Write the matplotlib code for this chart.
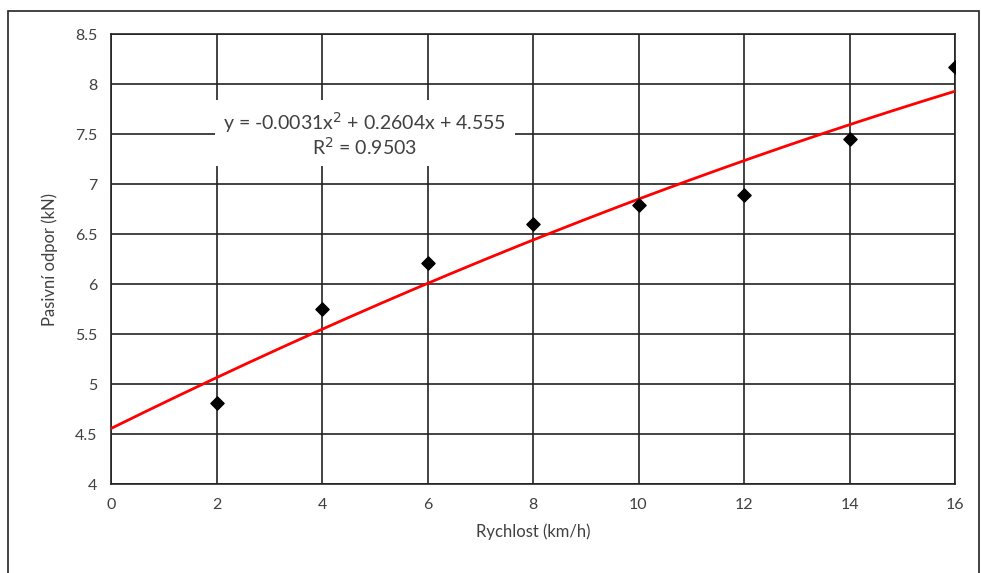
import numpy as np
import matplotlib
matplotlib.use("Agg")
import matplotlib.pyplot as plt
from matplotlib.patches import Rectangle

speed = [2, 4, 6, 8, 10, 12, 14, 16]
resistance = [4.81, 5.75, 6.21, 6.60, 6.79, 6.89, 7.45, 8.17]
coef = [-0.0031, 0.2604, 4.555]
r2 = 0.9503
x_ticks = [0, 2, 4, 6, 8, 10, 12, 14, 16]
y_ticks = [4, 4.5, 5, 5.5, 6, 6.5, 7, 7.5, 8, 8.5]

plt.rcParams['font.family'] = ['Lato', 'DejaVu Sans']

fig = plt.figure(figsize=(9.81, 5.73), dpi=100)
W, H = 981, 573
fig.patches.append(Rectangle((8 / W, -0.05), (979 - 8) / W, (H - 11) / H + 0.05,
                             transform=fig.transFigure, fill=False,
                             edgecolor='#222222', linewidth=1.2))
ax = fig.add_axes([111 / W, (H - 484) / H, (955 - 111) / W, (484 - 34) / H])

xs = np.linspace(0, 16, 200)
ax.plot(xs, np.polyval(coef, xs), color='#ff0000', linewidth=2, zorder=3)
ax.scatter(speed, resistance, marker='D', s=45, color='black', zorder=4)

ax.set_xlim(0, 16)
ax.set_ylim(4, 8.5)
ax.set_xticks(x_ticks)
ax.set_xticklabels([str(v) for v in x_ticks])
ax.set_yticks(y_ticks)
ax.set_yticklabels([f"{v:g}" for v in y_ticks])
ax.grid(True, color='#222222', linewidth=1.2)
ax.set_axisbelow(True)
for s in ax.spines.values():
    s.set_color('#222222')
    s.set_linewidth(1.2)
ax.tick_params(length=0, labelsize=11.5, colors='#404040', pad=10)
ax.set_xlabel('Rychlost (km/h)', fontsize=12, color='#404040', labelpad=8)
ax.set_ylabel('Pasivní odpor (kN)', fontsize=12, color='#404040', labelpad=12)

eq = (f"y = {coef[0]:.4f}x$^2$ + {coef[1]:.4f}x + {coef[2]:.3f}\n"
      f"R$^2$ = {r2:.4f}")
ax.text(4.81, 7.5, eq, ha='center', va='center', fontsize=14, color='#404040',
        linespacing=1.05,
        bbox=dict(facecolor='white', edgecolor='none', pad=6), zorder=2.5)

fig.savefig('out.png', dpi=100)
